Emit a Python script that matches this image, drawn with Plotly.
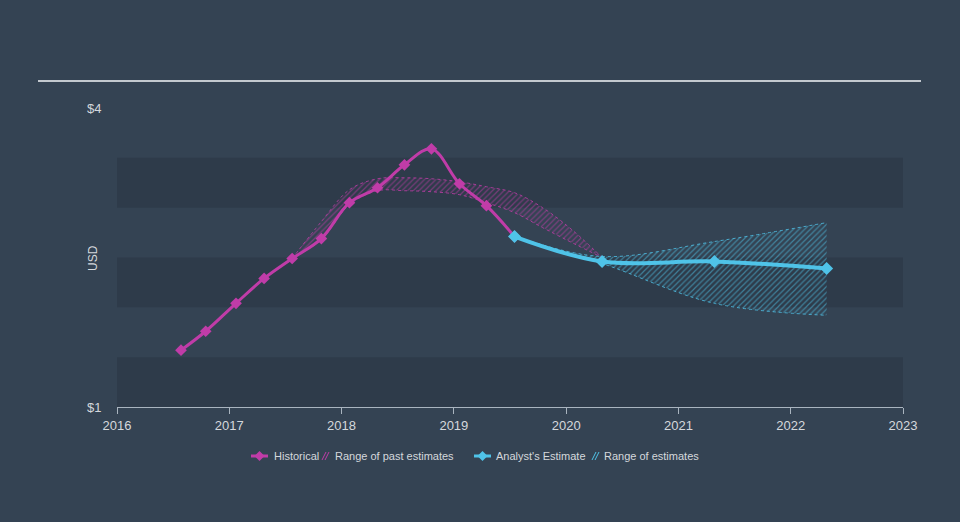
import plotly.graph_objects as go

# ---------------- data ----------------
hist_x = [2016.57, 2016.79, 2017.06, 2017.31, 2017.56, 2017.82, 2018.07, 2018.32,
          2018.56, 2018.80, 2019.05, 2019.29, 2019.54]
hist_y = [1.57, 1.76, 2.04, 2.29, 2.49, 2.69, 3.05, 3.20, 3.43, 3.59, 3.24, 3.02, 2.71]

est_x = [2019.54, 2020.32, 2021.32, 2022.32]
est_y = [2.71, 2.46, 2.46, 2.39]

past_rng_x = [2017.56, 2017.82, 2018.07, 2018.32, 2018.56, 2018.80, 2019.05, 2019.29,
              2019.54, 2019.79, 2020.05, 2020.32]
past_low = [2.49, 2.68, 3.03, 3.17, 3.17, 3.16, 3.13, 3.05, 2.95, 2.80, 2.65, 2.50]
past_high = [2.49, 2.86, 3.18, 3.29, 3.30, 3.29, 3.26, 3.21, 3.15, 3.00, 2.78, 2.50]

est_rng_x = [2019.54, 2020.32, 2021.32, 2022.32]
est_low = [2.71, 2.44, 2.04, 1.92]
est_high = [2.71, 2.51, 2.66, 2.85]

x_ticks = [2016, 2017, 2018, 2019, 2020, 2021, 2022, 2023]
y_ticks = [1, 4]
y_tick_text = ["$1", "$4"]
y_title = "USD"

legend_labels = ["Historical", "Range of past estimates", "Analyst's Estimate", "Range of estimates"]

# ---------------- style ----------------
MAG = "#c03ca8"
CYAN = "#4fc3e8"
BG = "#344353"
BAND = "#2e3b4a"
TXT = "#d4d8dc"
AXIS = "#a9b4bf"
FONT = "Liberation Sans, Arial, sans-serif"

L, R, T, B = 117, 57, 108, 115
W, H = 960, 522
PW, PH = W - L - R, H - T - B


def px(x):
    return (x - L) / PW


def py(y):
    return (H - B - y) / PH


fig = go.Figure()

# past estimates range
fig.add_trace(go.Scatter(x=past_rng_x, y=past_low, mode="lines",
                         line=dict(color=MAG, width=0.8, dash="dot", shape="spline"),
                         showlegend=False, hoverinfo="skip"))
fig.add_trace(go.Scatter(x=past_rng_x, y=past_high, mode="lines", fill="tonexty",
                         fillcolor="rgba(192,60,168,0.12)",
                         fillpattern=dict(shape="/", fgcolor=MAG, bgcolor="rgba(0,0,0,0)",
                                          size=4, solidity=0.3),
                         line=dict(color=MAG, width=0.8, dash="dot", shape="spline"),
                         showlegend=False, hoverinfo="skip"))

# analyst estimate range
fig.add_trace(go.Scatter(x=est_rng_x, y=est_low, mode="lines",
                         line=dict(color=CYAN, width=0.8, dash="dot", shape="spline"),
                         showlegend=False, hoverinfo="skip"))
fig.add_trace(go.Scatter(x=est_rng_x, y=est_high, mode="lines", fill="tonexty",
                         fillcolor="rgba(79,195,232,0.12)",
                         fillpattern=dict(shape="/", fgcolor=CYAN, bgcolor="rgba(0,0,0,0)",
                                          size=4, solidity=0.3),
                         line=dict(color=CYAN, width=0.8, dash="dot", shape="spline"),
                         showlegend=False, hoverinfo="skip"))

# historical
fig.add_trace(go.Scatter(x=hist_x, y=hist_y, mode="lines+markers",
                         line=dict(color=MAG, width=3, shape="spline"),
                         marker=dict(symbol="diamond", size=9, color=MAG),
                         showlegend=False))
# analyst estimate
fig.add_trace(go.Scatter(x=est_x, y=est_y, mode="lines+markers",
                         line=dict(color=CYAN, width=4, shape="spline"),
                         marker=dict(symbol="diamond", size=10, color=CYAN),
                         showlegend=False))

shapes = []
# horizontal bands
for y0 in [1, 2, 3]:
    shapes.append(dict(type="rect", xref="paper", yref="y", x0=0, x1=1, y0=y0, y1=y0 + 0.5,
                       fillcolor=BAND, line=dict(width=0), layer="below"))
# top rule
shapes.append(dict(type="line", xref="paper", yref="paper", x0=px(38), x1=px(921),
                   y0=py(81), y1=py(81), line=dict(color="#c3c9cf", width=2)))

annotations = []
# y axis title
annotations.append(dict(x=px(93), y=py(258), xref="paper", yref="paper", text=y_title,
                        textangle=-90, showarrow=False, xanchor="center", yanchor="middle",
                        font=dict(family=FONT, size=12, color=TXT)))

# legend (manual)
leg_y = 456


def diamond_path(cx, cy, hw, hh):
    return (f"M {px(cx - hw)} {py(cy)} L {px(cx)} {py(cy - hh)} "
            f"L {px(cx + hw)} {py(cy)} L {px(cx)} {py(cy + hh)} Z")


for (x0, x1, col, txt_x, txt) in [(251, 268, MAG, 272, legend_labels[0]),
                                  (474, 491, CYAN, 494, legend_labels[2])]:
    shapes.append(dict(type="line", xref="paper", yref="paper", x0=px(x0), x1=px(x1),
                       y0=py(leg_y), y1=py(leg_y), line=dict(color=col, width=3)))
    cx = (x0 + x1) / 2
    shapes.append(dict(type="path", xref="paper", yref="paper",
                       path=diamond_path(cx, leg_y, 5, 5), fillcolor=col,
                       line=dict(color=col, width=0)))
    annotations.append(dict(x=px(txt_x), y=py(leg_y), xref="paper", yref="paper",
                            text=txt, showarrow=False, xanchor="left", yanchor="middle",
                            font=dict(family=FONT, size=11, color=TXT)))

for (hx, col, txt_x, txt) in [(322, MAG, 333, legend_labels[1]),
                              (592, CYAN, 602, legend_labels[3])]:
    for dx in [0, 3]:
        shapes.append(dict(type="line", xref="paper", yref="paper",
                           x0=px(hx + dx), x1=px(hx + dx + 4),
                           y0=py(leg_y + 4), y1=py(leg_y - 4),
                           line=dict(color=col, width=1)))
    annotations.append(dict(x=px(txt_x), y=py(leg_y), xref="paper", yref="paper",
                            text=txt, showarrow=False, xanchor="left", yanchor="middle",
                            font=dict(family=FONT, size=11, color=TXT)))

fig.update_layout(
    width=W, height=H,
    margin=dict(l=L, r=R, t=T, b=B),
    paper_bgcolor=BG, plot_bgcolor=BG,
    font=dict(family=FONT, size=13, color=TXT),
    shapes=shapes, annotations=annotations,
    showlegend=False,
    xaxis=dict(range=[2016, 2023], tickvals=x_ticks, tickformat="d",
               showgrid=False, zeroline=False, showline=True, linecolor=AXIS, linewidth=1,
               ticks="outside", ticklen=6, tickcolor=AXIS, tickwidth=1,
               tickfont=dict(family=FONT, size=13, color=TXT), fixedrange=True),
    yaxis=dict(range=[1, 4], tickvals=y_ticks, ticktext=y_tick_text,
               showgrid=False, zeroline=False, showline=False,
               ticks="outside", ticklen=12, tickcolor="rgba(0,0,0,0)",
               tickfont=dict(family=FONT, size=13, color=TXT),
               fixedrange=True),
)

fig.write_html("out.html")
